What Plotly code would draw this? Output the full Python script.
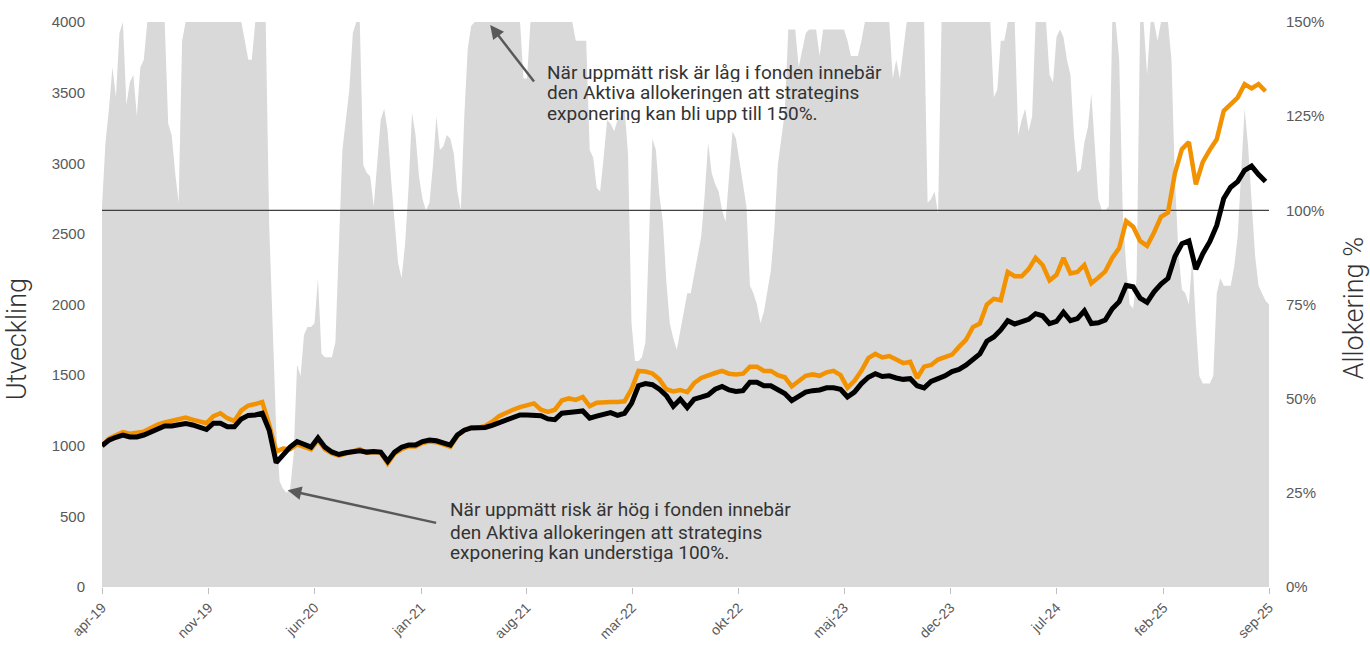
import pandas as pd
import plotly.graph_objects as go

# ---------------- data ----------------
start_date = "2019-04-01"
end_date = "2025-09-01"

# Allocation % (weekly)
allocation = [
    101, 118, 127, 138, 130, 147, 150, 128, 134, 136,
    125, 138, 140, 150, 150, 150, 150, 150, 150, 123,
    120, 110, 102, 145, 150, 150, 150, 150, 150, 150,
    150, 150, 150, 150, 150, 150, 150, 150, 150, 150,
    150, 145, 140, 140, 150, 150, 150, 150, 96, 68,
    42, 28, 26, 25, 26, 35, 59, 56, 67, 69,
    69, 70, 82, 62, 61, 61, 61, 65, 90, 116,
    124, 132, 147, 150, 150, 112, 110, 109, 101, 113,
    124, 127, 121, 108, 97, 86, 82, 91, 106, 126,
    120, 109, 103, 100, 102, 112, 125, 116, 117, 120,
    119, 115, 105, 100, 125, 143, 149, 150, 150, 150,
    150, 150, 150, 150, 150, 150, 150, 150, 150, 150,
    150, 135, 135, 150, 150, 150, 150, 150, 150, 150,
    150, 150, 150, 150, 150, 150, 145, 145, 145, 145,
    116, 114, 106, 105, 114, 124, 123, 121, 124, 125,
    127, 115, 70, 60, 60, 61, 65, 90, 119, 116,
    104, 97, 81, 70, 66, 63, 68, 74, 78, 78,
    83, 89, 93, 104, 118, 110, 107, 105, 100, 97,
    108, 121, 119, 113, 108, 101, 80, 78, 75, 70,
    73, 78, 84, 95, 112, 119, 126, 148, 148, 148,
    138, 143, 147, 148, 148, 148, 141, 148, 148, 148,
    148, 148, 148, 148, 145, 141, 141, 141, 145, 150,
    150, 150, 150, 150, 150, 150, 150, 135, 140, 135,
    142, 150, 150, 150, 150, 150, 150, 102, 103, 105,
    99, 150, 150, 150, 150, 150, 150, 150, 150, 150,
    150, 150, 150, 150, 150, 150, 130, 132, 145, 145,
    150, 150, 150, 120, 124, 127, 121, 125, 150, 150,
    150, 150, 136, 134, 146, 148, 146, 140, 136, 120,
    110, 111, 118, 122, 131, 118, 103, 100, 100, 101,
    150, 150, 140, 100, 85, 75, 74, 82, 150, 150,
    136, 150, 150, 145, 150, 150, 150, 140, 108, 89,
    79, 78, 75, 88, 70, 56, 54, 54, 54, 56,
    78, 82, 80, 80, 80, 85, 93, 110, 127, 117,
    103, 88, 80, 78, 76, 75,
]

# Index development (bi-weekly)
black_series = [
    1000, 1040, 1060, 1076, 1062, 1062, 1076, 1097, 1126, 1140,
    1140, 1147, 1158, 1147, 1133, 1115, 1160, 1160, 1135, 1135,
    1190, 1215, 1218, 1230, 1110, 880, 935, 990, 1030, 1010,
    990, 1055, 990, 956, 938, 950, 960, 965, 955, 960,
    955, 890, 955, 990, 1005, 1005, 1030, 1040, 1035, 1020,
    1005, 1076, 1110, 1126, 1126, 1130, 1145, 1165, 1180, 1200,
    1218, 1218, 1218, 1212, 1190, 1185, 1230, 1239, 1240, 1246,
    1196, 1210, 1225, 1235, 1215, 1230, 1300, 1425, 1440, 1432,
    1400, 1355, 1280, 1330, 1270, 1330, 1345, 1360, 1400, 1420,
    1395, 1385, 1390, 1450, 1450, 1425, 1425, 1395, 1370, 1320,
    1355, 1380, 1390, 1395, 1410, 1410, 1400, 1345, 1380, 1440,
    1485, 1510, 1490, 1495, 1480, 1470, 1475, 1425, 1410, 1455,
    1475, 1495, 1525, 1540, 1570, 1615, 1650, 1740, 1770, 1820,
    1885, 1862, 1875, 1895, 1935, 1920, 1865, 1880, 1945, 1885,
    1900, 1955, 1865, 1870, 1890, 1970, 2020, 2135, 2125, 2045,
    2015, 2090, 2145, 2185, 2340, 2430, 2450, 2250, 2360, 2445,
    2560, 2750, 2830, 2870, 2950, 2980, 2920, 2870,
]

orange_series = [
    1000, 1050, 1075, 1097, 1085, 1090, 1100, 1125, 1150, 1165,
    1175, 1190, 1200, 1185, 1170, 1160, 1210, 1230, 1195, 1175,
    1250, 1285, 1295, 1310, 1150, 960, 980, 975, 1010, 990,
    975, 1040, 975, 945, 930, 945, 960, 975, 950, 955,
    950, 875, 945, 975, 995, 995, 1020, 1030, 1025, 1005,
    992, 1070, 1110, 1130, 1128, 1140, 1170, 1210, 1235, 1255,
    1274, 1290, 1300, 1255, 1240, 1255, 1320, 1335, 1325, 1345,
    1280, 1305, 1310, 1310, 1310, 1315, 1400, 1530, 1525, 1512,
    1470, 1400, 1385, 1395, 1380, 1444, 1480, 1500, 1515, 1530,
    1510, 1505, 1510, 1560, 1560, 1530, 1530, 1500, 1485, 1420,
    1460, 1495, 1505, 1495, 1520, 1530, 1500, 1410, 1460, 1530,
    1620, 1650, 1625, 1635, 1610, 1585, 1595, 1480, 1560, 1572,
    1610, 1625, 1645, 1700, 1750, 1840, 1865, 2000, 2040, 2030,
    2230, 2200, 2200, 2250, 2330, 2280, 2170, 2210, 2330, 2220,
    2230, 2280, 2150, 2190, 2235, 2330, 2400, 2590, 2550, 2450,
    2415, 2510, 2620, 2650, 2930, 3100, 3150, 2850, 3010, 3095,
    3170, 3370, 3415, 3465, 3560, 3530, 3560, 3510,
]

tick_dates = ["2019-04-01", "2019-11-01", "2020-06-01", "2021-01-01",
              "2021-08-01", "2022-03-01", "2022-10-01", "2023-05-01",
              "2023-12-01", "2024-07-01", "2025-02-01", "2025-09-01"]
tick_labels = ["apr-19", "nov-19", "jun-20", "jan-21", "aug-21", "mar-22",
               "okt-22", "maj-23", "dec-23", "jul-24", "feb-25", "sep-25"]

alloc_ticks = [0, 25, 50, 75, 100, 125, 150]
alloc_labels = ["0%", "25%", "50%", "75%", "100%", "125%", "150%"]
ref_level = 100

note_low_risk = ["När uppmätt risk är låg i fonden innebär",
                 "den Aktiva allokeringen att strategins",
                 "exponering kan bli upp till 150%."]
note_high_risk = ["När uppmätt risk är hög i fonden innebär",
                  "den Aktiva allokeringen att strategins",
                  "exponering kan understiga 100%."]

alloc_dates = pd.date_range(start_date, periods=len(allocation), freq="7D")
line_dates = pd.date_range(start_date, periods=len(black_series), freq="14D")

# ---------------- figure ----------------
fig = go.Figure()

fig.add_trace(go.Scatter(
    x=alloc_dates, y=allocation, yaxis="y", mode="lines",
    fill="tozeroy", fillcolor="#d9d9d9",
    line=dict(width=0, color="#d9d9d9"), hoverinfo="skip", showlegend=False))

fig.add_trace(go.Scatter(
    x=[alloc_dates[0], alloc_dates[-1]], y=[ref_level, ref_level], yaxis="y",
    mode="lines", line=dict(color="#404040", width=1.2), showlegend=False,
    hoverinfo="skip"))

fig.add_trace(go.Scatter(
    x=line_dates, y=orange_series, yaxis="y2", mode="lines",
    line=dict(color="#F39200", width=4.5), showlegend=False))

fig.add_trace(go.Scatter(
    x=line_dates, y=black_series, yaxis="y2", mode="lines",
    line=dict(color="#000000", width=5), showlegend=False))

tick_font = dict(family="Liberation Sans, Arial, sans-serif", size=15, color="#595959")
title_font = dict(family="Roboto, sans-serif", size=27, color="#333333", weight=300)
note_font = dict(family="Roboto, sans-serif", size=19, color="#333333")

fig.update_layout(
    width=1370, height=645,
    margin=dict(l=102, r=101, t=22, b=58, autoexpand=False),
    plot_bgcolor="white", paper_bgcolor="white",
    showlegend=False,
    xaxis=dict(
        type="date", range=[start_date, end_date], automargin=False,
        tickvals=tick_dates, ticktext=tick_labels, tickangle=-45,
        ticks="outside", ticklen=6, tickcolor="#bfbfbf",
        showgrid=False, zeroline=False, showline=False,
        tickfont=dict(family="Liberation Sans, Arial, sans-serif", size=14, color="#595959"),
    ),
    yaxis=dict(
        range=[0, 150], side="right", automargin=False,
        tickvals=alloc_ticks, ticktext=alloc_labels,
        showgrid=False, zeroline=False, showline=False, ticks="",
        tickfont=tick_font, ticklabelstandoff=16,
    ),
    yaxis2=dict(
        range=[0, 4000], side="left", overlaying="y", automargin=False,
        tickmode="linear", tick0=0, dtick=500,
        showgrid=False, zeroline=False, showline=False, ticks="",
        tickfont=tick_font, ticklabelstandoff=16,
    ),
)

annotations = [
    dict(text="Utveckling", xref="paper", yref="paper",
         x=-0.0725, y=0.439, textangle=-90, showarrow=False,
         xanchor="center", yanchor="middle", font=title_font),
    dict(text="Allokering %", xref="paper", yref="paper",
         x=1.0725, y=0.494, textangle=-90, showarrow=False,
         xanchor="center", yanchor="middle", font=title_font),
    dict(text="", xref="x", yref="y", x="2021-05-20", y=149.2,
         ax=45, ay=58, showarrow=True, arrowhead=2, arrowsize=1.1,
         arrowwidth=2.5, arrowcolor="#595959"),
    dict(text="", xref="x", yref="y", x="2020-04-08", y=25.7,
         ax=150, ay=33, showarrow=True, arrowhead=2, arrowsize=1.1,
         arrowwidth=2.5, arrowcolor="#595959"),
]
for line_text, ypos in zip(note_low_risk, [0.9115, 0.8752, 0.8389]):
    annotations.append(dict(text=line_text, xref="paper", yref="paper",
                            x=0.380, y=ypos, xanchor="left", yanchor="middle",
                            align="left", valign="middle", height=19,
                            showarrow=False, font=note_font))
for line_text, ypos in zip(note_high_risk, [0.1363, 0.0973, 0.0602]):
    annotations.append(dict(text=line_text, xref="paper", yref="paper",
                            x=0.2965, y=ypos, xanchor="left", yanchor="middle",
                            align="left", valign="middle", height=19,
                            showarrow=False, font=note_font))
fig.update_layout(annotations=annotations)

fig.write_html(
    "out.html",
    config={"displayModeBar": False},
    post_script="document.body.style.margin='0';document.body.style.overflow='hidden';",
)
